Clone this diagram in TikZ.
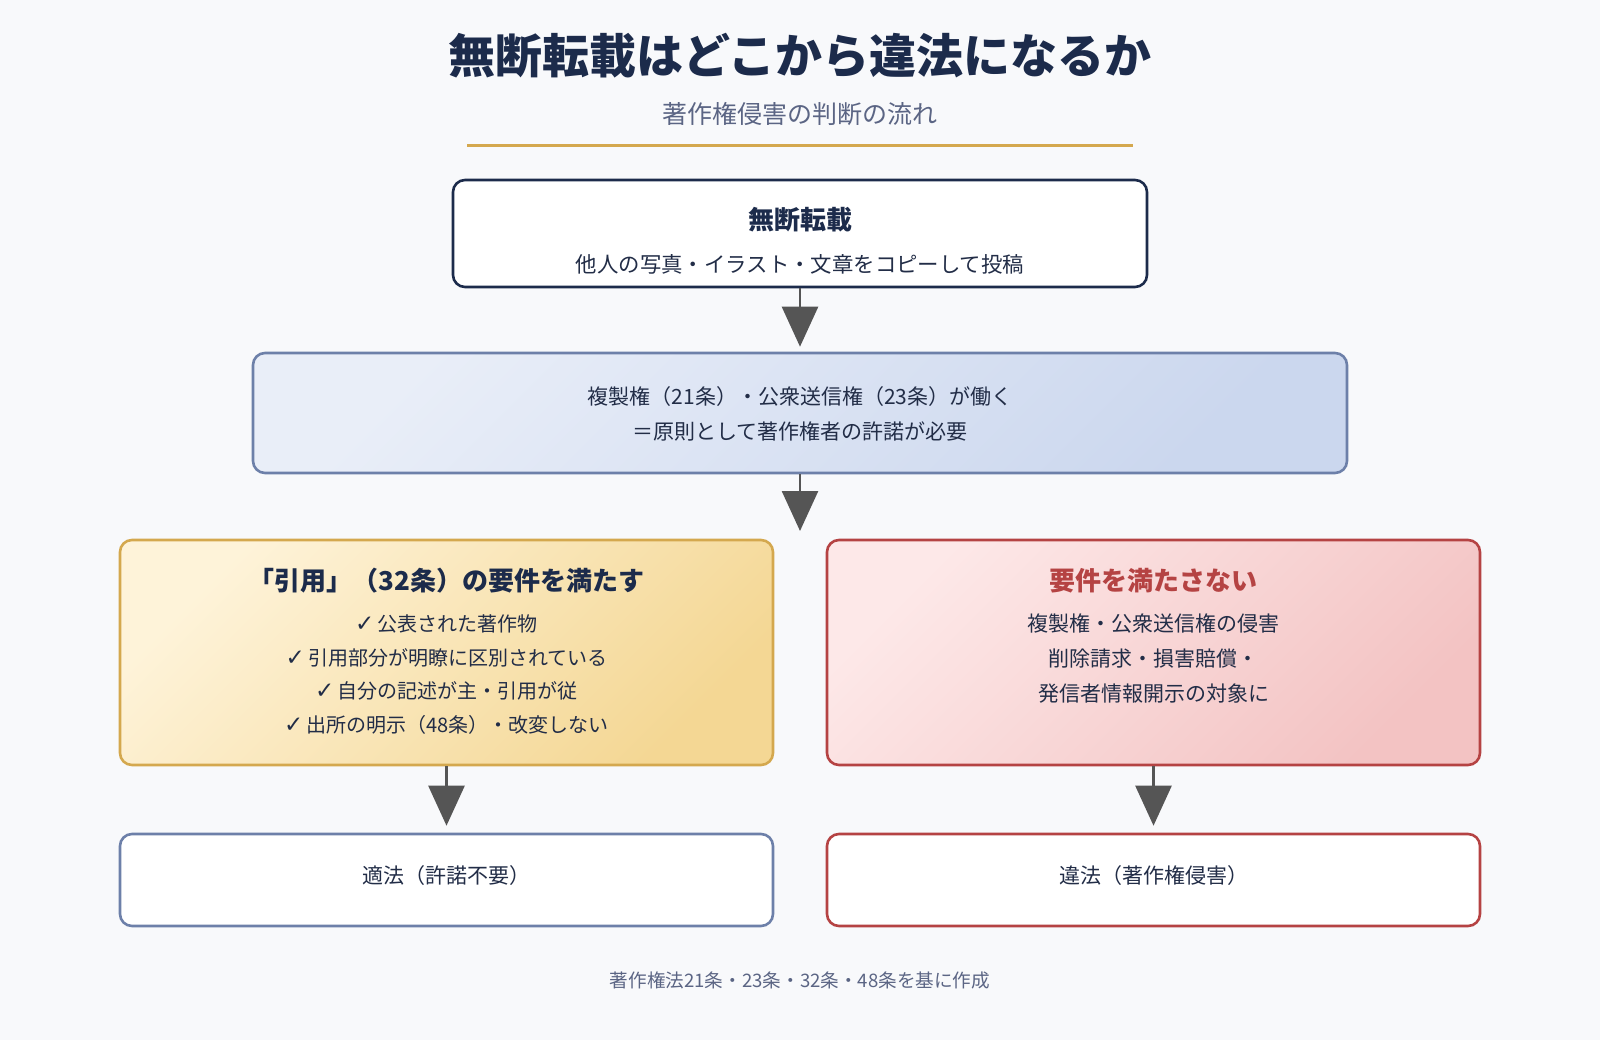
\documentclass[tikz,border=0pt]{standalone}
\usepackage{fontspec}
\setmainfont{Noto Sans CJK JP}
\newfontfamily\heavy{Noto Sans CJK JP Black}
\newfontfamily\sym{DejaVu Sans}
\usetikzlibrary{arrows.meta,positioning}
\definecolor{bg}{HTML}{F8F9FB}
\definecolor{navy}{HTML}{1C2B4B}
\definecolor{ink}{HTML}{222D47}
\definecolor{muted}{HTML}{5B6584}
\definecolor{gold}{HTML}{D4A84E}
\definecolor{arrowc}{HTML}{555555}
\definecolor{blueline}{HTML}{6D80A9}
\definecolor{bluelight}{HTML}{E9EEF8}
\definecolor{bluedark}{HTML}{CBD7EE}
\definecolor{yellight}{HTML}{FEF3D9}
\definecolor{yeldark}{HTML}{F4D794}
\definecolor{redline}{HTML}{B54343}
\definecolor{redlight}{HTML}{FDE8E8}
\definecolor{reddark}{HTML}{F3C3C3}

\begin{document}
\begin{tikzpicture}[x=1pt, y=-1pt,
  box/.style={draw, rounded corners=12pt, line width=2.6pt, inner sep=0pt},
  fade/.style 2 args={top color=#1, bottom color=#2, shading angle=45},
  head/.style={font=\fontsize{26pt}{30pt}\selectfont\bfseries, text=navy},
  body/.style={font=\fontsize{21pt}{35pt}\selectfont, text=ink, align=center},
  flow/.style={-{Triangle[width=36pt,length=40pt]}, line width=2.6pt, draw=arrowc}]
\fill[bg] (0,0) rectangle (1600,1040);
\useasboundingbox (0,0) rectangle (1600,1040);

\node[font=\fontsize{47pt}{52pt}\selectfont\heavy, text=navy] (title) at (800,56) {無断転載はどこから違法になるか};
\node[font=\fontsize{25pt}{29pt}\selectfont, text=muted] (sub) at (800,114) {著作権侵害の判断の流れ};
\draw[gold, line width=3pt] (467,146) -- (1133,146);

\node[box, draw=navy, fill=white, minimum width=694pt, minimum height=107pt] (repost) at (800,233.5) {};
\node[head] (reposthead) at (800,220) {無断転載};
\node[body, font=\fontsize{21.4pt}{35pt}\selectfont] (repostbody) at (800,264) {他人の写真・イラスト・文章をコピーして投稿};

\node[box, draw=blueline, fade={bluelight}{bluedark}, minimum width=1094pt, minimum height=120pt] (rights) at (800,413) {};
\node[body] (rightsbody) at (800,413.5) {複製権（21条）・公衆送信権（23条）が働く\\＝原則として著作権者の許諾が必要};

\node[box, draw=gold, fade={yellight}{yeldark}, minimum width=653pt, minimum height=225pt] (quote) at (446.5,652.5) {};
\node[head] (quotehead) at (446.5,581) {「引用」（32条）の要件を満たす};
\node[body, font=\fontsize{20pt}{33.7pt}\selectfont] (quotebody) at (446.5,674.5) {{\sym\bfseries\fontsize{23pt}{23pt}\selectfont ✓}\,公表された著作物\\{\sym\bfseries\fontsize{23pt}{23pt}\selectfont ✓}\,引用部分が明瞭に区別されている\\{\sym\bfseries\fontsize{23pt}{23pt}\selectfont ✓}\,自分の記述が主・引用が従\\{\sym\bfseries\fontsize{23pt}{23pt}\selectfont ✓}\,出所の明示（48条）・改変しない};

\node[box, draw=redline, fade={redlight}{reddark}, minimum width=653pt, minimum height=225pt] (fail) at (1153.5,652.5) {};
\node[head, text=redline] (failhead) at (1153.5,581) {要件を満たさない};
\node[body] (failbody) at (1153.5,659) {複製権・公衆送信権の侵害\\削除請求・損害賠償・\\発信者情報開示の対象に};

\node[box, draw=blueline, fill=white, minimum width=653pt, minimum height=92pt] (legal) at (446.5,880) {};
\node[body] (legaltext) at (446.5,876) {適法（許諾不要）};
\node[box, draw=redline, fill=white, minimum width=653pt, minimum height=92pt] (illegal) at (1153.5,880) {};
\node[body] (illegaltext) at (1153.5,876) {違法（著作権侵害）};

\coordinate (split) at (800,531);
\draw[flow, shorten >=5pt] (repost) -- (rights);
\draw[flow] (rights) -- (split);
\draw[flow, shorten >=7pt] (quote) -- (legal);
\draw[flow, shorten >=7pt] (fail) -- (illegal);

\node[font=\fontsize{18.6pt}{22pt}\selectfont, text=muted] (note) at (800,980) {著作権法21条・23条・32条・48条を基に作成};
\end{tikzpicture}
\end{document}
